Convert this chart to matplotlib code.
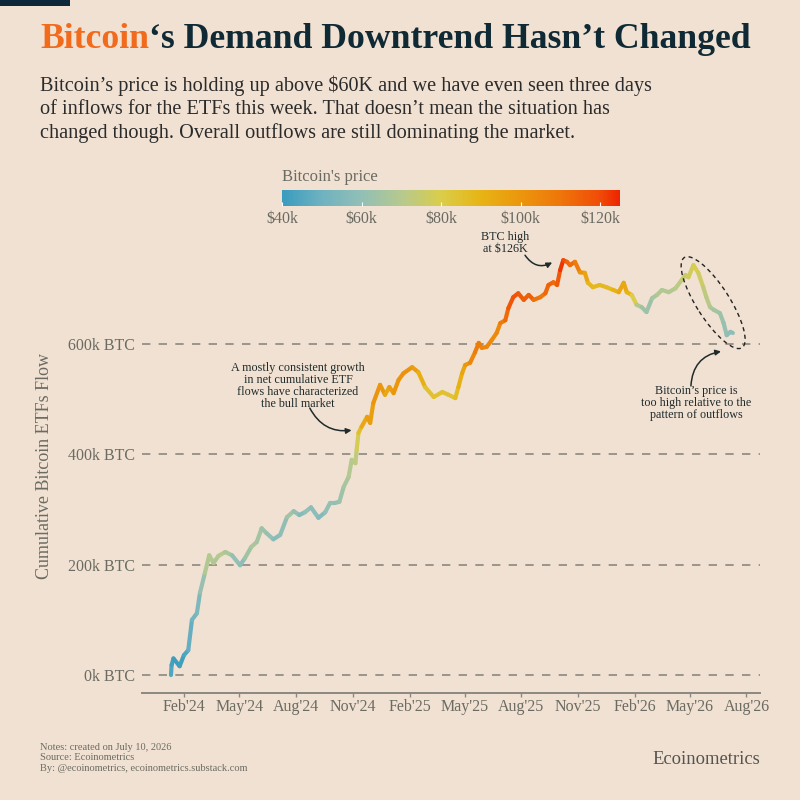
import numpy as np
import matplotlib
matplotlib.use("Agg")
import matplotlib.pyplot as plt
import matplotlib.dates as mdates
from matplotlib.collections import LineCollection
from matplotlib.colors import LinearSegmentedColormap, Normalize
from matplotlib.patches import Ellipse, Rectangle
from matplotlib.transforms import ScaledTranslation
import matplotlib.cm as cm

# ---------------- data ----------------
dates = [
    "2024-01-11", "2024-01-12", "2024-01-15", "2024-01-25", "2024-02-01", "2024-02-08", "2024-02-14", "2024-02-22", "2024-02-27", "2024-03-06",
    "2024-03-13", "2024-03-20", "2024-03-28", "2024-04-08", "2024-04-19", "2024-05-02", "2024-05-10", "2024-05-20", "2024-05-29", "2024-06-06",
    "2024-06-14", "2024-06-25", "2024-07-06", "2024-07-17", "2024-07-28", "2024-08-06", "2024-08-15", "2024-08-25", "2024-09-06", "2024-09-17",
    "2024-09-25", "2024-10-03", "2024-10-10", "2024-10-17", "2024-10-25", "2024-10-30", "2024-11-05", "2024-11-07", "2024-11-10", "2024-11-15",
    "2024-11-24", "2024-11-29", "2024-12-04", "2024-12-15", "2024-12-23", "2024-12-30", "2025-01-06", "2025-01-14", "2025-01-22", "2025-02-05",
    "2025-02-15", "2025-02-26", "2025-03-12", "2025-03-26", "2025-04-05", "2025-04-16", "2025-04-21", "2025-04-27", "2025-05-02", "2025-05-10",
    "2025-05-18", "2025-05-24", "2025-05-29", "2025-06-06", "2025-06-14", "2025-06-22", "2025-06-28", "2025-07-06", "2025-07-11", "2025-07-19",
    "2025-07-27", "2025-08-05", "2025-08-13", "2025-08-21", "2025-09-01", "2025-09-09", "2025-09-14", "2025-09-22", "2025-09-28", "2025-10-03",
    "2025-10-08", "2025-10-14", "2025-10-19", "2025-10-27", "2025-11-04", "2025-11-12", "2025-11-17", "2025-11-25", "2025-12-06", "2025-12-17",
    "2025-12-28", "2026-01-06", "2026-01-14", "2026-01-19", "2026-01-27", "2026-02-04", "2026-02-12", "2026-02-20", "2026-03-01", "2026-03-09",
    "2026-03-17", "2026-03-28", "2026-04-08", "2026-04-18", "2026-04-24", "2026-04-29", "2026-05-07", "2026-05-15", "2026-05-23", "2026-05-28",
    "2026-06-03", "2026-06-09", "2026-06-19", "2026-06-25", "2026-06-30", "2026-07-06", "2026-07-10",
]

# cumulative ETF flows, thousands of BTC
flows_k = [
    0, 18, 30, 16, 36, 45, 100, 112, 149, 185,
    217, 203, 216, 223, 217, 199, 212, 232, 241, 266,
    257, 246, 254, 286, 297, 290, 295, 304, 285, 295,
    312, 312, 314, 341, 359, 390, 384, 408, 439, 450,
    468, 457, 493, 526, 508, 522, 511, 535, 547, 558,
    549, 522, 504, 513, 508, 502, 522, 547, 562, 566,
    585, 602, 593, 595, 607, 620, 638, 643, 665, 685,
    692, 680, 689, 680, 685, 692, 707, 712, 707, 734,
    752, 749, 743, 749, 730, 729, 711, 703, 707, 703,
    698, 694, 711, 694, 689, 671, 667, 658, 683, 689,
    698, 694, 701, 716, 725, 721, 743, 729, 703, 685,
    667, 662, 656, 638, 616, 622, 620,
]

# bitcoin price, thousands of USD
price_k = [
    46, 43, 41, 40, 43, 45, 52, 52, 57, 66,
    72, 67, 70, 70, 64, 57, 60, 68, 66, 64,
    63, 59, 56, 63, 66, 55, 58, 62, 55, 58,
    62, 60, 60, 66, 67, 72, 69, 76, 81, 90,
    98, 97, 97, 104, 95, 93, 102, 97, 104, 98,
    97, 86, 83, 87, 83, 85, 88, 94, 96, 103,
    106, 109, 106, 105, 105, 101, 107, 108, 117, 118,
    119, 114, 118, 113, 109, 111, 116, 113, 112, 122,
    124, 115, 112, 113, 103, 98, 92, 87, 89, 87,
    88, 93, 96, 92, 88, 72, 66, 62, 65, 68,
    70, 68, 70, 73, 76, 75, 80, 78, 74, 72,
    70, 66, 64, 62, 60, 58, 60,
]

y_ticks = [0, 200, 400, 600]
y_tick_labels = ["0k BTC", "200k BTC", "400k BTC", "600k BTC"]
cbar_ticks = [40, 60, 80, 100, 120]
cbar_labels = ["$40k", "$60k", "$80k", "$100k", "$120k"]

# ---------------- style ----------------
BG = "#f1e1d2"
DARK = "#0f2a35"
ORANGE = "#f26b1d"
GREY = "#6b6b62"
SERIF = ["Liberation Serif", "DejaVu Serif"]
plt.rcParams["font.family"] = SERIF

cmap = LinearSegmentedColormap.from_list(
    "btc",
    [(0.0, "#3a9cbe"), (10 / 85, "#6fb2c0"), (20 / 85, "#92bfb6"), (30 / 85, "#b6c98e"),
     (40 / 85, "#dacd4a"), (50 / 85, "#e7b414"), (60 / 85, "#eb960d"), (70 / 85, "#ee760a"),
     (80 / 85, "#f04c08"), (1.0, "#ee2400")])
norm = Normalize(vmin=40, vmax=125)

fig = plt.figure(figsize=(8, 8), dpi=100, facecolor=BG)

# top-left dark bar
fig.patches.append(Rectangle((0, 1 - 6 / 800), 70 / 800, 6 / 800, transform=fig.transFigure,
                             facecolor="#0d2838", edgecolor="none"))

# ---------------- title ----------------
t1 = fig.text(40 / 800, 1 - 48 / 800, "Bitcoin", color=ORANGE, fontsize=25.7, fontweight="bold", va="baseline")
fig.canvas.draw()
r = fig.canvas.get_renderer()
bb = t1.get_window_extent(r)
fig.text(bb.x1 / 800, 1 - 48 / 800, "\u2018s Demand Downtrend Hasn\u2019t Changed", color=DARK, fontsize=25.7,
         fontweight="bold", va="baseline")

fig.text(40 / 800, 1 - 76 / 800,
         "Bitcoin\u2019s price is holding up above $60K and we have even seen three days\n"
         "of inflows for the ETFs this week. That doesn\u2019t mean the situation has\n"
         "changed though. Overall outflows are still dominating the market.",
         color="#2b2b2b", fontsize=14.6, va="top", ha="left", linespacing=1.25)

# ---------------- colour bar ----------------
cax = fig.add_axes([282 / 800, 1 - 205.5 / 800, 338 / 800, 15.5 / 800])
sm = cm.ScalarMappable(norm=norm, cmap=cmap)
cb = fig.colorbar(sm, cax=cax, orientation="horizontal")
cb.outline.set_visible(False)
cb.set_ticks(cbar_ticks)
cb.set_ticklabels(cbar_labels)
cax.tick_params(axis="x", direction="in", length=3, width=0.8, color="white", labelsize=11.5,
                labelcolor=GREY, pad=4)
fig.text(282 / 800, 1 - 177 / 800, "Bitcoin's price", color=GREY, fontsize=12, va="center", ha="left")

# ---------------- main axes ----------------
ax = fig.add_axes([142 / 800, 1 - 693 / 800, 618 / 800, 440 / 800])
ax.set_facecolor(BG)

x = mdates.date2num(np.array(dates, dtype="datetime64[D]"))
y = np.array(flows_k, dtype=float)
p = np.array(price_k, dtype=float)
pts = np.column_stack([x, y]).reshape(-1, 1, 2)
segs = np.concatenate([pts[:-1], pts[1:]], axis=1)
seg_price = (p[:-1] + p[1:]) / 2
lc = LineCollection(segs, colors=cmap(norm(seg_price)), linewidths=3.0, capstyle="round",
                    joinstyle="round", zorder=3)
ax.add_collection(lc)

ax.set_xlim(mdates.date2num(np.datetime64("2023-11-25")), mdates.date2num(np.datetime64("2026-08-23")))
ax.set_ylim(-32.6, 765)

ax.set_yticks(y_ticks)
ax.set_yticklabels(y_tick_labels)
ax.yaxis.grid(True, linestyle=(0, (5, 5)), color="#8b8880", linewidth=1.2)
ax.set_axisbelow(True)
ax.tick_params(axis="y", length=0, pad=5, labelsize=11.5, labelcolor=GREY)

ax.xaxis.set_major_locator(mdates.MonthLocator(bymonth=[2, 5, 8, 11]))
ax.xaxis.set_major_formatter(mdates.DateFormatter("%b'%y"))
ax.tick_params(axis="x", length=3, width=1, color="#8b8880", pad=1.5, labelsize=11.5, labelcolor=GREY)

for s in ["top", "right", "left"]:
    ax.spines[s].set_visible(False)
ax.spines["bottom"].set_color("#8b8880")
ax.spines["bottom"].set_linewidth(1.4)

fig.text(45 / 800, 1 - 466 / 800, "Cumulative Bitcoin ETFs Flow", rotation=90, color=GREY, fontsize=13,
         va="center", ha="center")

# ---------------- annotations ----------------
def d(s):
    return mdates.date2num(np.datetime64(s))

ANN = "#1f2b2b"
ax.text(d("2024-08-04"), 524, "A mostly consistent growth\nin net cumulative ETF\nflows have characterized\nthe bull market",
        ha="center", va="center", fontsize=8.7, color=ANN, linespacing=1.0)
ax.annotate("", xy=(d("2024-11-01"), 444), xytext=(d("2024-08-23"), 484),
            arrowprops=dict(arrowstyle="-|>", color=ANN, lw=1.1, mutation_scale=8,
                            connectionstyle="arc3,rad=0.35", shrinkA=0, shrinkB=1))

ax.text(d("2025-07-06"), 783, "BTC high\nat $126K", ha="center", va="center", fontsize=8.7, color=ANN,
        linespacing=1.0, clip_on=False)
ax.annotate("", xy=(d("2025-09-22"), 749), xytext=(d("2025-08-07"), 761),
            arrowprops=dict(arrowstyle="-|>", color=ANN, lw=1.1, mutation_scale=8,
                            connectionstyle="arc3,rad=0.45", shrinkA=0, shrinkB=1), annotation_clip=False)

ax.text(d("2026-05-12"), 493, "Bitcoin\u2019s price is\ntoo high relative to the\npattern of outflows",
        ha="center", va="center", fontsize=8.7, color=ANN, linespacing=1.0)
ax.annotate("", xy=(d("2026-06-23"), 587), xytext=(d("2026-05-03"), 524),
            arrowprops=dict(arrowstyle="-|>", color=ANN, lw=1.1, mutation_scale=8,
                            connectionstyle="arc3,rad=-0.4", shrinkA=0, shrinkB=1))

# dashed ellipse around the recent decline
ell_tr = fig.dpi_scale_trans + ScaledTranslation(d("2026-06-08"), 675, ax.transData)
ax.add_patch(Ellipse((0, 0), 1.07, 0.33, angle=-57.4, transform=ell_tr, fill=False,
                     edgecolor="#222222", linestyle=(0, (3, 2.5)), linewidth=1.0, clip_on=False, zorder=4))

# ---------------- footer ----------------
fig.text(40 / 800, 1 - 758 / 800, "Notes: created on July 10, 2026\nSource: Ecoinometrics\n"
         "By: @ecoinometrics, ecoinometrics.substack.com", color=GREY, fontsize=7.5, va="center",
         ha="left", linespacing=1.15)
fig.text(760 / 800, 1 - 759 / 800, "Ecoinometrics", color="#55554f", fontsize=13.4, ha="right", va="center")

fig.savefig("out.png", dpi=100, facecolor=BG)
